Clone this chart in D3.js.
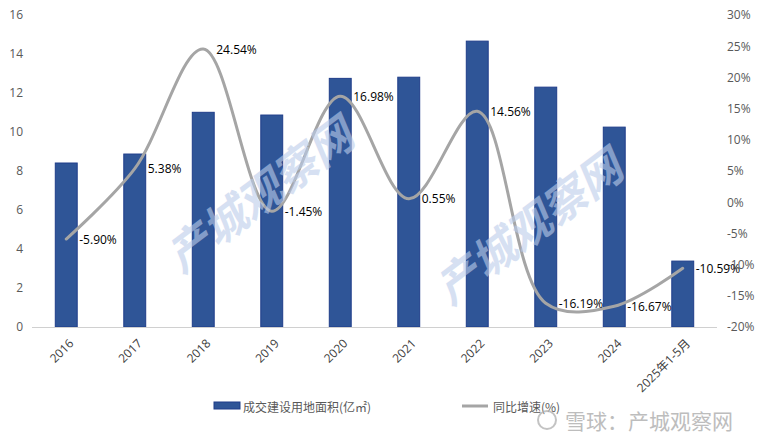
<!DOCTYPE html>
<html><head><meta charset="utf-8">
<script src="https://cdn.jsdelivr.net/npm/d3@7/dist/d3.min.js"></script>
<style>
html,body{margin:0;padding:0;background:#fff;}
svg{display:block;font-family:"Noto Sans CJK SC","Open Sans",sans-serif;}
</style></head>
<body><svg id="c" width="768" height="443"></svg>
<script>
const categories = ["2016","2017","2018","2019","2020","2021","2022","2023","2024","2025年1-5月"];
const areaValues = [8.41, 8.87, 11.01, 10.87, 12.75, 12.81, 14.66, 12.30, 10.25, 3.38];
const growthValues = [-5.90, 5.38, 24.54, -1.45, 16.98, 0.55, 14.56, -16.19, -16.67, -10.59];
const growthLabels = ["-5.90%","5.38%","24.54%","-1.45%","16.98%","0.55%","14.56%","-16.19%","-16.67%","-10.59%"];
const leftTicks = [0,2,4,6,8,10,12,14,16];
const rightTicks = [-20,-15,-10,-5,0,5,10,15,20,25,30];
const seriesNames = ["成交建设用地面积(亿㎡)","同比增速(%)"];

const svg = d3.select("#c");
const L = 32, R = 717, T = 15, B = 327;

const x = d3.scaleBand().domain(categories).range([L, R]).paddingInner(0.68).paddingOuter(0.34);
const yL = d3.scaleLinear().domain([0,16]).range([B, T]);
const yR = d3.scaleLinear().domain([-20,30]).range([B, T]);

// bars
svg.append("g").selectAll("rect").data(areaValues).join("rect")
  .attr("x", (d,i)=>x(categories[i]))
  .attr("y", d=>yL(d))
  .attr("width", x.bandwidth())
  .attr("height", d=>B - yL(d))
  .attr("fill", "#2f5597")
  .attr("stroke", "#1f3d8a").attr("stroke-width", 1);

// baseline
svg.append("line").attr("x1", L).attr("x2", R).attr("y1", B+0.5).attr("y2", B+0.5)
  .attr("stroke", "#d0d0d0").attr("stroke-width", 1);

// left axis
const axL = svg.append("g").attr("transform", `translate(${L},0)`)
  .call(d3.axisLeft(yL).tickValues(leftTicks).tickSize(0).tickPadding(9).tickFormat(d3.format("d")));
axL.select(".domain").remove();
axL.selectAll("text").attr("font-size", 12).attr("fill", "#595959")
  .attr("font-family", "'Open Sans','Noto Sans',sans-serif");

// right axis
const axR = svg.append("g").attr("transform", `translate(${R},0)`)
  .call(d3.axisRight(yR).tickValues(rightTicks).tickSize(0).tickPadding(10).tickFormat(d=>d+"%"));
axR.select(".domain").remove();
axR.selectAll("text").attr("font-size", 12).attr("fill", "#595959")
  .attr("font-family", "'Open Sans','Noto Sans',sans-serif");

// x axis
const axX = svg.append("g").attr("transform", `translate(0,${B})`)
  .call(d3.axisBottom(x).tickSize(0).tickPadding(0));
axX.select(".domain").remove();
axX.selectAll("text")
  .attr("font-size", 12).attr("fill", "#404040")
  .attr("font-family", "'Open Sans','Noto Sans CJK SC',sans-serif")
  .attr("text-anchor", "end")
  .attr("dy", null).attr("y", 0)
  .attr("transform", "translate(5,14) rotate(-45)")
  .attr("dominant-baseline", "central");

// line
const cx = i => x(categories[i]) + x.bandwidth()/2;
const line = d3.line().x((d,i)=>cx(i)).y(d=>yR(d)).curve(d3.curveCatmullRom.alpha(0.5));
svg.append("path").datum(growthValues).attr("d", line)
  .attr("fill", "none").attr("stroke", "#a5a5a5").attr("stroke-width", 3).attr("stroke-linecap", "round");

// data labels
svg.append("g").selectAll("text").data(growthValues).join("text")
  .attr("x", (d,i)=>cx(i) + 13)
  .attr("y", d=>yR(d))
  .attr("dominant-baseline", "central")
  .attr("font-size", 12).attr("fill", "#000")
  .attr("font-family", "'Open Sans','Noto Sans',sans-serif")
  .text((d,i)=>growthLabels[i]);

// watermarks (diagonal)
[[258,193],[527,225]].forEach(p=>{
  svg.append("text").attr("transform", `translate(${p[0]},${p[1]}) rotate(-37)`)
    .attr("text-anchor","middle").attr("dominant-baseline","central")
    .attr("font-size", 44).attr("font-weight", "bold").attr("font-style","italic")
    .attr("fill", "#bccdeb").attr("opacity", 0.6)
    .text("产城观察网");
});

// legend
const lg = svg.append("g");
lg.append("rect").attr("x", 214).attr("y", 402).attr("width", 26).attr("height", 7)
  .attr("fill", "#2f5597").attr("stroke", "#1f3d8a");
lg.append("text").attr("x", 243).attr("y", 406).attr("dominant-baseline","central")
  .attr("font-size", 12).attr("fill", "#595959").text(seriesNames[0]);
lg.append("line").attr("x1", 462).attr("x2", 488).attr("y1", 406).attr("y2", 406)
  .attr("stroke", "#a5a5a5").attr("stroke-width", 3);
lg.append("text").attr("x", 493).attr("y", 406).attr("dominant-baseline","central")
  .attr("font-size", 12).attr("fill", "#595959").text(seriesNames[1]);

// bottom-right watermark
const wm = svg.append("g").attr("opacity", 0.75);
wm.append("circle").attr("cx", 547).attr("cy", 420).attr("r", 9).attr("fill","none").attr("stroke","#b0b0b0").attr("stroke-width",2);
wm.append("text").attr("x", 565).attr("y", 420).attr("dominant-baseline","central")
  .attr("font-size", 21).attr("fill", "#a8a8a8").text("雪球：产城观察网");
</script></body></html>
